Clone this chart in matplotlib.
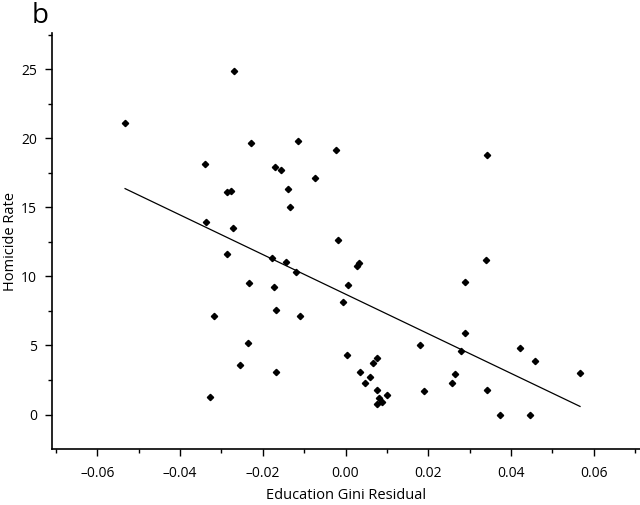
import numpy as np
import matplotlib
matplotlib.use("Agg")
import matplotlib.pyplot as plt
from matplotlib.ticker import MultipleLocator, FormatStrFormatter

# education gini residual vs homicide rate
gini_resid = [
    -0.0533, -0.0270, -0.0340, -0.0228, -0.0116, -0.0170, -0.0155, -0.0073,
    -0.0287, -0.0277, -0.0139, -0.0134, -0.0338, -0.0273, -0.0287, -0.0022,
    0.0343, -0.0019, -0.0178, -0.0143, -0.0119, -0.0234, -0.0172, -0.0319,
    -0.0169, -0.0110, -0.0237, -0.0254, -0.0169, -0.0327, 0.0028, 0.0033,
    0.0340, 0.0288, 0.0007, -0.0006, 0.0290, 0.0180, 0.0422, 0.0279,
    0.0004, 0.0077, 0.0067, 0.0459, 0.0567, 0.0034, 0.0058, 0.0264,
    0.0046, 0.0257, 0.0075, 0.0190, 0.0343, 0.0100, 0.0080, 0.0075,
    0.0088, 0.0373, 0.0447,
]
homicide = [
    21.14, 24.86, 18.14, 19.64, 19.83, 17.95, 17.73, 17.13,
    16.12, 16.21, 16.33, 15.03, 13.94, 13.51, 11.59, 19.13,
    18.82, 12.61, 11.33, 11.01, 10.32, 9.52, 9.20, 7.10,
    7.59, 7.10, 5.20, 3.58, 3.09, 1.28, 10.72, 10.97,
    11.21, 9.62, 9.40, 8.12, 5.92, 5.00, 4.81, 4.62,
    4.30, 4.11, 3.70, 3.91, 3.00, 3.09, 2.71, 2.90,
    2.30, 2.30, 1.81, 1.70, 1.79, 1.41, 1.21, 0.80,
    0.90, 0.0, 0.0,
]

plt.rcParams["font.family"] = ["Open Sans", "DejaVu Sans"]

x = np.array(gini_resid)
y = np.array(homicide)
# least squares line, drawn over the range of the data
slope, intercept = np.polyfit(x, y, 1)

fig = plt.figure(figsize=(6.4, 5.05), dpi=100)
ax = fig.add_axes([0.0817, 0.111, 0.9183, 0.823])

ax.plot(x, y, linestyle="none", marker="D", markersize=3.2, color="black")
xl = np.array([x.min(), x.max()])
ax.plot(xl, slope * xl + intercept, color="black", linewidth=0.9)

ax.set_xlim(-0.0709, 0.0712)
ax.set_ylim(-2.49, 27.6)
ax.xaxis.set_major_locator(MultipleLocator(0.02))
ax.xaxis.set_minor_locator(MultipleLocator(0.01))
ax.xaxis.set_major_formatter(FormatStrFormatter("%.2f"))
ax.yaxis.set_major_locator(MultipleLocator(5))
ax.yaxis.set_minor_locator(MultipleLocator(2.5))

for s in ["top", "right"]:
    ax.spines[s].set_visible(False)
for s in ["left", "bottom"]:
    ax.spines[s].set_linewidth(1.2)

ax.tick_params(which="major", length=5, width=1.0, labelsize=10)
ax.tick_params(which="minor", length=3, width=1.0)
ax.tick_params(axis="x", which="major", pad=7)
ax.tick_params(axis="y", which="major", pad=6)

# en dash as in the original labels
ax.set_xticklabels([f"{v:.2f}".replace("-", "\u2013") for v in ax.get_xticks()])

ax.set_xlabel("Education Gini Residual", fontsize=10.5, labelpad=5)
ax.set_ylabel("Homicide Rate", fontsize=10.5, labelpad=2)

fig.text(0.05, 0.955, "b", fontsize=20, va="baseline", ha="left")

fig.savefig("out.png", dpi=100)
